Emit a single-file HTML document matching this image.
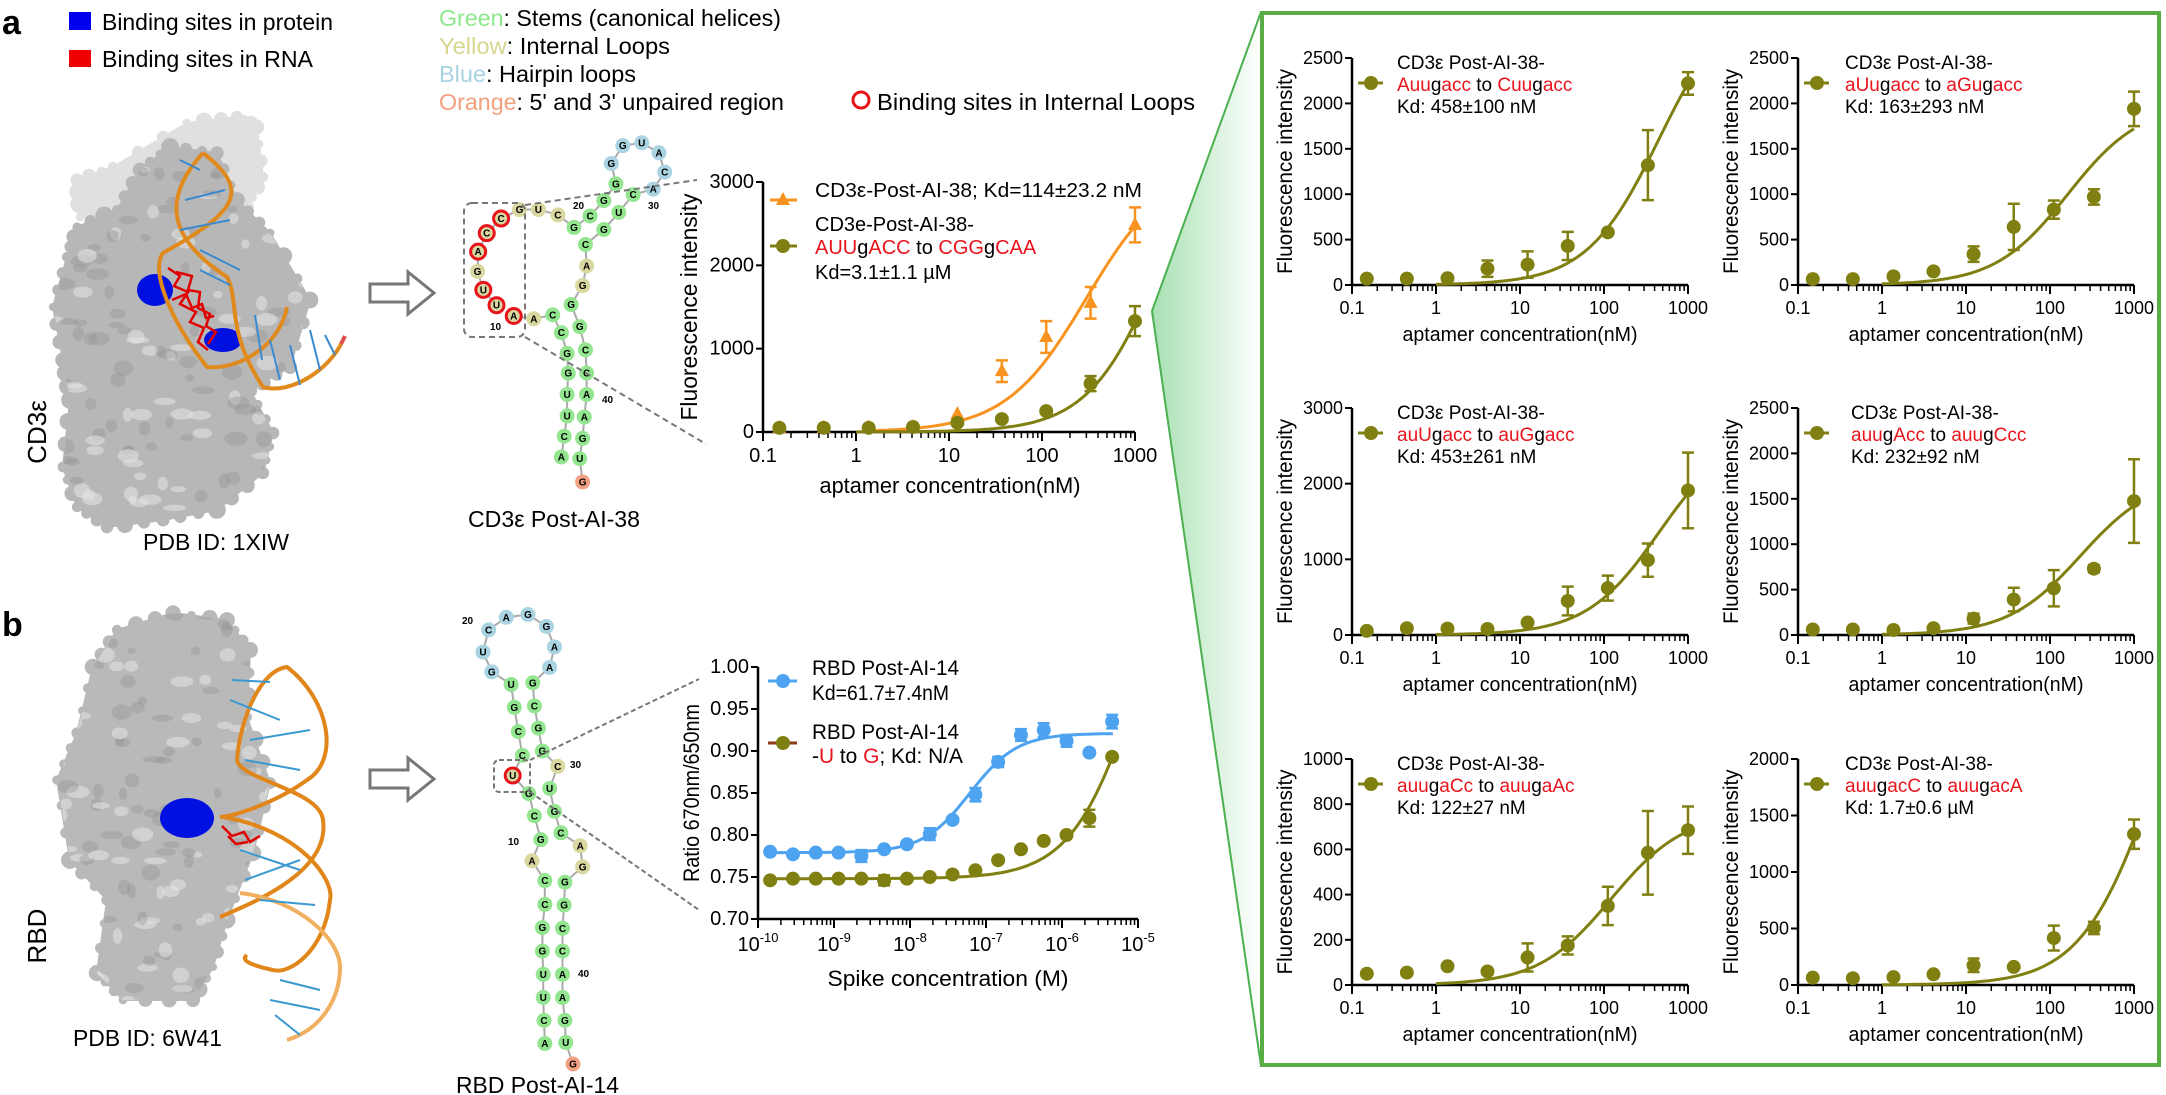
<!DOCTYPE html>
<html><head><meta charset="utf-8"><style>
html,body{margin:0;padding:0;background:#fff;}
svg{display:block;font-family:"Liberation Sans",Arial,sans-serif;}
</style></head><body>
<svg id="s" xmlns="http://www.w3.org/2000/svg" width="2166" height="1095" viewBox="0 0 2166 1095"></svg>
<script>
var S=[];
function T(x,y,s,o){o=o||{};var a='<text x="'+x+'" y="'+y+'" font-size="'+(o.fs||20)+'"'+(o.fill?' fill="'+o.fill+'"':'')+(o.anchor?' text-anchor="'+o.anchor+'"':'')+(o.bold?' font-weight="bold"':'')+(o.tl?' textLength="'+o.tl+'" lengthAdjust="spacingAndGlyphs"':'')+(o.rot?' transform="rotate(-90 '+x+' '+y+')"':'')+'>'+s+'</text>';S.push(a);}
function segs(arr){return arr.map(function(p){return '<tspan fill="'+(p[1]=='r'?'#e8141c':'#000')+'">'+p[0]+'</tspan>';}).join('');}
var OL='#808012',OR='#f7931e',BL='#4da3f0';
T(2,34,'a',{fs:34,bold:1});T(2,636,'b',{fs:34,bold:1});
S.push('<rect x="69" y="12" width="22" height="18" fill="#0000ee"/><rect x="69" y="50" width="22" height="17" fill="#ee0000"/>');
T(102,30,'Binding sites in protein',{fs:23,tl:231});T(102,67,'Binding sites in RNA',{fs:23,tl:211});
T(439,26,'<tspan fill="#8de88a">Green</tspan>: Stems (canonical helices)',{fs:23,tl:342});
T(439,54,'<tspan fill="#d6d68e">Yellow</tspan>: Internal Loops',{fs:23,tl:231});
T(439,82,'<tspan fill="#a8d4e2">Blue</tspan>: Hairpin loops',{fs:23,tl:197});
T(439,110,'<tspan fill="#f2a07e">Orange</tspan>: 5\' and 3\' unpaired region',{fs:23,tl:345});
S.push('<circle cx="861" cy="100" r="8" fill="none" stroke="#e8141c" stroke-width="3"/>');
T(877,110,'Binding sites in Internal Loops',{fs:23,tl:318});
var PA=[[77,227],[117,210],[140,170],[170,147],[217,153],[237,200],[270,233],[310,300],[290,367],[250,390],[273,433],[263,473],[217,510],[163,520],[107,527],[77,507],[63,467],[70,400],[63,360],[53,307],[67,257]];
var PB=[[117,630],[173,613],[227,620],[250,650],[247,717],[270,783],[253,853],[227,920],[213,967],[193,1000],[123,1000],[97,973],[107,900],[70,860],[57,780],[77,733],[93,667]];
function pd(p){return 'M'+p.map(function(q){return q.join(',');}).join(' L')+' Z';}
S.push('<defs><linearGradient id="g1" x1="0" x2="1" y1="0" y2="0"><stop offset="0" stop-color="#3dbb55" stop-opacity="0.45"/><stop offset="1" stop-color="#3dbb55" stop-opacity="0"/></linearGradient>'+
'<radialGradient id="pg" cx="0.45" cy="0.4" r="0.75"><stop offset="0" stop-color="#d4d4d4"/><stop offset="0.75" stop-color="#b8b8b8"/><stop offset="1" stop-color="#909090"/></radialGradient>'+
'<clipPath id="cA"><path d="'+pd(PA)+'"/></clipPath><clipPath id="cB"><path d="'+pd(PB)+'"/></clipPath></defs>');
S.push('<polygon points="1152,311 1261,12 1261,1066" fill="url(#g1)"/><polyline points="1261,12 1152,311 1261,1066" fill="none" stroke="#4cb050" stroke-width="2"/>');
S.push('<rect x="1262" y="13" width="897" height="1052" fill="none" stroke="#5aac44" stroke-width="4"/>');
var seed=7;function rnd(){seed=(seed*9301+49297)%233280;return seed/233280;}
function protein(pts,fill){
 var o='<path d="'+pd(pts)+'" fill="'+fill+'" stroke="'+fill+'" stroke-width="2"/>';
 for(var i=0;i<pts.length;i++){var a=pts[i],b=pts[(i+1)%pts.length];for(var t=0;t<1;t+=0.34){var x=a[0]+(b[0]-a[0])*t,y=a[1]+(b[1]-a[1])*t;o+='<circle cx="'+x.toFixed(1)+'" cy="'+y.toFixed(1)+'" r="'+(4+rnd()*5).toFixed(1)+'" fill="'+fill+'"/>';}}
 S.push(o);}
function texture(x0,y0,x1,y1,n,clip){var o='<g clip-path="url(#'+clip+')">';for(var i=0;i<n;i++){var x=x0+rnd()*(x1-x0),y=y0+rnd()*(y1-y0);var lt=rnd()>0.5;o+='<ellipse cx="'+x.toFixed(1)+'" cy="'+y.toFixed(1)+'" rx="'+(4+rnd()*8).toFixed(1)+'" ry="'+(3+rnd()*5).toFixed(1)+'" fill="'+(lt?'#e6e6e6':'#8e8e8e')+'" opacity="'+(lt?0.55:0.35)+'"/>';}S.push(o+'</g>');}
protein([[77,180],[113,167],[187,123],[237,117],[257,127],[263,177],[247,207],[80,217]],'#e0e0e0');
protein(PA,'#b7b7b7');
texture(50,140,315,530,170,'cA');
S.push('<ellipse cx="155" cy="290" rx="18" ry="16" fill="#0010e0"/><ellipse cx="223" cy="340" rx="19" ry="12" fill="#0010e0"/>');
S.push('<g stroke="#e00000" stroke-width="2.5" fill="none"><path d="M168,268 l12,8 l-6,10 l14,6 l-8,12 l16,8 l-6,10 l14,6 l-6,14 l10,8"/><path d="M176,272 l16,4 l-4,14 l12,2 l-2,16 l12,6 l-4,12 l10,6 l-8,12"/><path d="M172,300 l14,-6 l6,14 l10,-4 l4,14 l8,-2"/></g>');
S.push('<path d="M203,153 C160,200 170,240 227,277 C240,300 225,330 263,387 C290,395 330,370 343,340" fill="none" stroke="#e08a1e" stroke-width="4"/><path d="M203,153 C250,190 240,210 163,253 C150,270 170,320 207,367 C240,370 280,345 287,307" fill="none" stroke="#e08a1e" stroke-width="4"/><line x1="341" y1="344" x2="345" y2="336" stroke="#e05050" stroke-width="4"/>');
S.push('<g stroke="#3a8ad0" stroke-width="2"><line x1="180" y1="160" x2="200" y2="170"/><line x1="185" y1="200" x2="225" y2="190"/><line x1="180" y1="230" x2="230" y2="220"/><line x1="200" y1="250" x2="240" y2="270"/><line x1="200" y1="270" x2="230" y2="285"/><line x1="270" y1="340" x2="280" y2="380"/><line x1="290" y1="345" x2="300" y2="385"/><line x1="310" y1="330" x2="320" y2="370"/><line x1="325" y1="335" x2="335" y2="355"/><line x1="255" y1="315" x2="262" y2="360"/></g>');
protein(PB,'#b9b9b9');
texture(55,605,275,1005,150,'cB');
S.push('<ellipse cx="187" cy="818" rx="27" ry="20" fill="#0010e0"/><g stroke="#e00000" stroke-width="2.5" fill="none"><path d="M222,826 l10,10 l12,-4 l6,10 l10,-6"/><path d="M228,836 l8,8 l12,-2"/></g>');
S.push('<path d="M220,917 C260,900 330,870 323,820 C320,790 240,780 237,760 C240,720 260,670 287,667 C330,700 340,760 307,780 C280,800 240,815 220,817" fill="none" stroke="#e0861a" stroke-width="4"/><path d="M223,817 C300,830 335,880 330,900 C325,950 290,975 273,970 C250,965 240,960 247,955" fill="none" stroke="#e0861a" stroke-width="4"/><path d="M240,893 C300,900 340,940 340,967 C340,1000 320,1030 287,1040" fill="none" stroke="#f0b060" stroke-width="4"/>');
S.push('<g stroke="#3a9ad0" stroke-width="2"><line x1="232" y1="680" x2="270" y2="682"/><line x1="230" y1="700" x2="280" y2="720"/><line x1="250" y1="740" x2="310" y2="730"/><line x1="245" y1="760" x2="300" y2="770"/><line x1="240" y1="850" x2="300" y2="870"/><line x1="245" y1="880" x2="300" y2="860"/><line x1="260" y1="900" x2="315" y2="905"/><line x1="280" y1="980" x2="320" y2="990"/><line x1="270" y1="1000" x2="320" y2="1010"/><line x1="275" y1="1015" x2="300" y2="1035"/></g>');
T(46,432,'CD3ε',{fs:26,anchor:'middle',rot:1});T(46,936,'RBD',{fs:26,anchor:'middle',rot:1});
T(143,550,'PDB ID: 1XIW',{fs:23,tl:146});T(73,1046,'PDB ID: 6W41',{fs:23,tl:149});
T(468,527,'CD3ε Post-AI-38',{fs:23,tl:172});T(456,1093,'RBD Post-AI-14',{fs:23,tl:163});
function arrow(x,y){S.push('<path d="M'+x+','+(y-9)+' h38 v-12 l26,21 l-26,21 v-12 h-38 Z" fill="#fff" stroke="#777" stroke-width="3"/>');}
arrow(370,293);arrow(370,779);
var CF={g:'#93e68f',y:'#d9d8a0',b:'#aad4e2',o:'#f2a283'};
function nts(list,fx,fy){var out='';list.forEach(function(n){var x=n[0]*fx[0]+fx[1],y=n[1]*fy[0]+fy[1];n.X=x;n.Y=y;});
 for(var i=1;i<list.length;i++){out+='<line x1="'+list[i-1].X+'" y1="'+list[i-1].Y+'" x2="'+list[i].X+'" y2="'+list[i].Y+'" stroke="#aaa" stroke-width="2"/>';}
 list.forEach(function(n){out+='<circle cx="'+n.X+'" cy="'+n.Y+'" r="7.5" fill="'+CF[n[3]]+'"'+(n[4]?' stroke="#e8141c" stroke-width="3"':'')+'/><text x="'+n.X+'" y="'+(n.Y+3.5)+'" font-size="10" font-weight="bold" text-anchor="middle">'+n[2]+'</text>';});S.push(out);}
var A=[[865,855,'U','y',1],[842,812,'U','y',1],[832,760,'G','y'],[833,705,'A','y',1],[848,653,'C','y',1],[873,612,'C','y',1],[905,587,'G','y'],[938,587,'U','y'],[972,602,'C','y'],[1000,637,'G','g'],[1028,605,'C','g'],[1052,562,'G','g'],[1073,515,'G','g'],[1065,458,'G','b'],[1085,408,'G','b'],[1118,400,'U','b'],[1148,428,'A','b'],[1158,482,'C','b'],[1138,530,'A','b'],[1103,545,'C','g'],[1078,595,'U','g'],[1052,643,'G','g'],[1020,685,'C','g'],[1022,745,'A','y'],[1015,800,'G','y'],[995,853,'G','g'],[1010,915,'G','g'],[1020,980,'C','g'],[1022,1045,'C','g'],[1022,1105,'A','g'],[1018,1168,'A','g'],[1015,1228,'G','g'],[1010,1285,'U','g'],[1015,1350,'G','o']];
var A2=[[895,885,'A','y',1],[930,893,'A','y'],[963,882,'C','g'],[978,932,'C','g'],[988,990,'G','g'],[990,1045,'G','g'],[988,1105,'U','g'],[988,1165,'U','g'],[983,1222,'C','g'],[978,1280,'A','g']];
nts(A,[0.574,0],[0.357,0]);nts(A2,[0.574,0],[0.357,0]);
T(573,209,'20',{fs:10,bold:1});T(648,209,'30',{fs:10,bold:1});T(490,330,'10',{fs:10,bold:1});T(602,403,'40',{fs:10,bold:1});
S.push('<rect x="464" y="203" width="61" height="134" rx="8" fill="none" stroke="#777" stroke-width="2" stroke-dasharray="6 4"/><line x1="525" y1="205" x2="697" y2="180" stroke="#777" stroke-width="2" stroke-dasharray="6 4"/><line x1="525" y1="337" x2="706" y2="444" stroke="#777" stroke-width="2" stroke-dasharray="6 4"/>');
var B=[[662,882,'A','y'],[673,820,'G','g'],[665,750,'C','g'],[658,685,'G','g'],[638,632,'U','y',1],[650,573,'C','g'],[645,503,'C','g'],[640,432,'G','g'],[636,365,'U','g'],[612,328,'G','b'],[601,270,'U','b'],[608,205,'C','b'],[630,168,'A','b'],[657,160,'G','b'],[680,195,'G','b'],[690,255,'A','b'],[684,315,'A','b'],[663,360,'G','g'],[665,428,'C','g'],[670,493,'G','g'],[675,560,'G','g'],[694,605,'C','y'],[684,670,'U','g'],[690,737,'G','g'],[698,800,'C','g'],[722,838,'A','y'],[725,900,'G','y'],[703,945,'G','g'],[702,1012,'G','g'],[700,1080,'C','g'],[700,1147,'C','g'],[700,1215,'A','g'],[700,1283,'A','g'],[703,1350,'G','g'],[704,1415,'U','g'],[713,1478,'G','o']];
var B2=[[662,882,'A','y'],[678,940,'C','g'],[678,1010,'C','g'],[675,1078,'G','g'],[675,1147,'G','g'],[676,1215,'U','g'],[676,1283,'U','g'],[677,1350,'C','g'],[678,1418,'A','g']];
nts(B,[0.8036,0],[0.341,560]);nts(B2,[0.8036,0],[0.341,560]);
T(462,624,'20',{fs:10,bold:1});T(570,768,'30',{fs:10,bold:1});T(508,845,'10',{fs:10,bold:1});T(578,977,'40',{fs:10,bold:1});
S.push('<rect x="494" y="760" width="36" height="32" rx="5" fill="none" stroke="#777" stroke-width="2" stroke-dasharray="5 3"/><line x1="530" y1="760" x2="699" y2="679" stroke="#777" stroke-width="2" stroke-dasharray="5 3"/><line x1="530" y1="792" x2="699" y2="910" stroke="#777" stroke-width="2" stroke-dasharray="5 3"/>');
function chart(c){
 var o='';var X=function(v){return c.ax+(Math.log10(v)-c.lmin)*c.dec;};var Y=function(v){return c.ay-(v-c.ymin)/(c.ymax-c.ymin)*(c.ay-c.top);};
 var xr=c.ax+(c.lmax-c.lmin)*c.dec;
 o+='<line x1="'+c.ax+'" y1="'+c.ay+'" x2="'+xr+'" y2="'+c.ay+'" stroke="#000" stroke-width="2.5"/><line x1="'+c.ax+'" y1="'+(c.ay+1)+'" x2="'+c.ax+'" y2="'+c.top+'" stroke="#000" stroke-width="2.5"/>';
 for(var d=c.lmin;d<=c.lmax;d++){var x=c.ax+(d-c.lmin)*c.dec;o+='<line x1="'+x+'" y1="'+c.ay+'" x2="'+x+'" y2="'+(c.ay+9)+'" stroke="#000" stroke-width="2"/>';
  if(d<c.lmax)for(var k=2;k<10;k++){var xm=x+Math.log10(k)*c.dec;o+='<line x1="'+xm+'" y1="'+c.ay+'" x2="'+xm+'" y2="'+(c.ay+6)+'" stroke="#000" stroke-width="1.5"/>';}
  o+='<text x="'+x+'" y="'+(c.ay+c.xtd)+'" font-size="'+c.fs+'" text-anchor="middle">'+c.xl(d)+'</text>';}
 for(var v=c.ymin;v<=c.ymax+1e-9;v+=c.ys){var y=Y(v);o+='<line x1="'+(c.ax-7)+'" y1="'+y+'" x2="'+c.ax+'" y2="'+y+'" stroke="#000" stroke-width="2"/><text x="'+(c.ax-9)+'" y="'+(y+6)+'" font-size="'+c.fs+'" text-anchor="end">'+c.yl(v)+'</text>';}
 o+='<text x="'+c.ylx+'" y="'+((c.ay+c.top)/2)+'" font-size="'+c.yfs+'" text-anchor="middle" textLength="'+c.ytl+'" lengthAdjust="spacingAndGlyphs" transform="rotate(-90 '+c.ylx+' '+((c.ay+c.top)/2)+')">'+c.ylab+'</text>';
 o+='<text x="'+c.xlx+'" y="'+(c.ay+c.xld)+'" font-size="'+c.xfs+'" text-anchor="middle" textLength="'+c.xtl+'" lengthAdjust="spacingAndGlyphs">'+c.xlab+'</text>';
 c.series.forEach(function(s){
  var p='';for(var i=0;i<=120;i++){var lv=s.c0+(s.c1-s.c0)*i/120;var v=Math.pow(10,lv);p+=(i?'L':'M')+X(v).toFixed(1)+','+Y(s.f(v)).toFixed(1);}
  o+='<path d="'+p+'" fill="none" stroke="'+s.col+'" stroke-width="3"/>';
  s.pts.forEach(function(q){var x=X(q[0]),y=Y(q[1]);if(q[2]){var y1=Y(q[1]+q[2]),y2=Y(q[1]-q[2]);o+='<path d="M'+x+','+y1+'V'+y2+'M'+(x-6)+','+y1+'h12M'+(x-6)+','+y2+'h12" stroke="'+s.col+'" stroke-width="2.5" fill="none"/>';}
   if(s.tri)o+='<path d="M'+x+','+(y-8)+'L'+(x+7)+','+(y+5)+'L'+(x-7)+','+(y+5)+'Z" fill="'+s.col+'"/>';else o+='<circle cx="'+x+'" cy="'+y+'" r="'+(s.r||7)+'" fill="'+s.col+'"/>';});
 });
 S.push(o);}
var XS=[0.15,0.45,1.37,4.1,12.3,37,111,333,1000];
function mk(vals){return vals.map(function(v,i){return Array.isArray(v)?[XS[i],v[0],v[1]]:[XS[i],v];});}
function nl(d){return ['0.1','1','10','100','1000'][d+1];}
function right(ax,ay,top,ymax,ys,vals,B,K,leg,lx){
 chart({ax:ax,ay:ay,top:top,lmin:-1,lmax:3,dec:84,ymin:0,ymax:ymax,ys:ys,fs:18,xtd:29,xl:nl,yl:function(v){return Math.round(v);},
  ylab:'Fluorescence intensity',ylx:ax-60,yfs:21,ytl:205,xlab:'aptamer concentration(nM)',xlx:ax+168,xld:56,xfs:20,xtl:235,
  series:[{col:OL,pts:mk(vals),c0:0,c1:3,f:function(x){return B*x/(K+x);}}]});
 var ty=top+4;
 S.push('<line x1="'+(ax+6)+'" y1="'+(ty+21)+'" x2="'+(ax+31)+'" y2="'+(ty+21)+'" stroke="'+OL+'" stroke-width="3"/><circle cx="'+(ax+19)+'" cy="'+(ty+21)+'" r="7" fill="'+OL+'"/>');
 T(lx,ty+7,'CD3ε Post-AI-38-',{fs:19});T(lx,ty+29,segs(leg[0]),{fs:19});T(lx,ty+51,leg[1],{fs:19});
}
right(1352,285,58,2500,500,[70,70,75,[180,90],[225,145],[430,155],580,[1320,385],[2220,125]],3237,458,[[['Auu','r'],['g','k'],['acc','r'],[' to ','k'],['Cuu','r'],['g','k'],['acc','r']],'Kd: 458±100 nM'],1397);
right(1798,285,58,2500,500,[65,65,95,150,[340,85],[640,255],[830,100],[970,85],[1940,190]],2000,163,[[['aUu','r'],['g','k'],['acc','r'],[' to ','k'],['aGu','r'],['g','k'],['acc','r']],'Kd: 163±293 nM'],1845);
right(1352,635,408,3000,1000,[55,90,85,80,165,[450,190],[620,165],[990,220],[1910,500]],2717,453,[[['auU','r'],['g','k'],['acc','r'],[' to ','k'],['auG','r'],['g','k'],['acc','r']],'Kd: 453±261 nM'],1397);
right(1798,635,408,2500,500,[60,60,55,75,[180,55],[390,130],[515,200],[730,40],[1475,460]],1750,232,[[['auu','r'],['g','k'],['Acc','r'],[' to ','k'],['auu','r'],['g','k'],['Ccc','r']],'Kd: 232±92 nM'],1851);
right(1352,985,759,1000,200,[50,55,83,60,[122,62],[175,40],[350,85],[585,185],[685,105]],763,122,[[['auu','r'],['g','k'],['aCc','r'],[' to ','k'],['auu','r'],['g','k'],['aAc','r']],'Kd: 122±27 nM'],1397);
right(1798,985,759,2000,500,[65,60,70,95,[175,60],160,[415,110],[505,55],[1335,130]],3510,1700,[[['auu','r'],['g','k'],['acC','r'],[' to ','k'],['auu','r'],['g','k'],['acA','r']],'Kd: 1.7±0.6 µM'],1845);
chart({ax:763,ay:432,top:182,lmin:-1,lmax:3,dec:93,ymin:0,ymax:3000,ys:1000,fs:20,xtd:30,xl:nl,yl:function(v){return Math.round(v);},
 ylab:'Fluorescence intensity',ylx:697,yfs:23,ytl:227,xlab:'aptamer concentration(nM)',xlx:950,xld:61,xfs:22,xtl:261,
 series:[{col:OR,tri:1,pts:mk([50,50,55,60,215,[730,130],[1140,190],[1550,190],[2485,210]]),c0:0.1,c1:3,f:function(x){return 3210*x/(300+x);}},
  {col:OL,pts:mk([50,50,50,60,110,155,250,[580,90],[1330,180]]),c0:0,c1:3,f:function(x){var a=Math.pow(x/2000,1.1);return 4120*a/(1+a);}}]});
S.push('<line x1="770" y1="200" x2="797" y2="200" stroke="'+OR+'" stroke-width="3"/><path d="M783,192L790,205L776,205Z" fill="'+OR+'"/>');
S.push('<line x1="770" y1="246" x2="797" y2="246" stroke="'+OL+'" stroke-width="3"/><circle cx="783" cy="246" r="7" fill="'+OL+'"/>');
T(815,197,'CD3ε-Post-AI-38; Kd=114±23.2 nM',{fs:20,tl:327});T(815,231,'CD3e-Post-AI-38-',{fs:20});
T(815,254,segs([['AUU','r'],['g','k'],['ACC','r'],[' to ','k'],['CGG','r'],['g','k'],['CAA','r']]),{fs:20});T(815,279,'Kd=3.1±1.1 µM',{fs:20});
var LX=[];for(var i=0;i<16;i++)LX.push(Math.pow(10,-9.84+0.3*i));
var bv=[0.78,0.777,0.779,0.779,[0.775,0.007],0.783,0.789,[0.801,0.007],0.818,[0.848,0.008],[0.887,0.006],[0.919,0.007],[0.925,0.008],[0.912,0.007],0.898,[0.935,0.008]];
var ov=[0.746,0.748,0.748,0.748,0.748,[0.746,0.006],0.748,0.75,0.753,0.758,0.77,0.783,0.793,0.8,[0.82,0.01],0.893];
function mb(v){return v.map(function(q,i){return Array.isArray(q)?[LX[i],q[0],q[1]]:[LX[i],q];});}
chart({ax:758,ay:919,top:667,lmin:-10,lmax:-5,dec:76,ymin:0.7,ymax:1.0,ys:0.05,fs:20,xtd:32,
 xl:function(d){return '10<tspan font-size="13" dy="-9">'+d+'</tspan>';},yl:function(v){return v.toFixed(2);},
 ylab:'Ratio 670nm/650nm',ylx:699,yfs:22,ytl:178,xlab:'Spike concentration (M)',xlx:948,xld:67,xfs:22,xtl:241,
 series:[{col:BL,pts:mb(bv),c0:-9.84,c1:-5.33,f:function(x){return 0.779+0.142/(1+Math.pow(10,(-7.21-Math.log10(x))*1.4));}},
  {col:OL,pts:mb(ov),c0:-9.84,c1:-5.33,f:function(x){return 0.748+0.46*x/(1e-5+x);}}]});
S.push('<line x1="768" y1="681" x2="797" y2="681" stroke="'+BL+'" stroke-width="3"/><circle cx="783" cy="681" r="7" fill="'+BL+'"/>');
S.push('<line x1="768" y1="743" x2="797" y2="743" stroke="#8b3a1a" stroke-width="3"/><circle cx="783" cy="743" r="7" fill="'+OL+'"/>');
T(812,675,'RBD Post-AI-14',{fs:21,tl:147});T(812,700,'Kd=61.7±7.4nM',{fs:21,tl:137});
T(812,739,'RBD Post-AI-14',{fs:21,tl:147});T(812,763,segs([['-','k'],['U','r'],[' to ','k'],['G','r'],['; Kd: N/A','k']]),{fs:21,tl:151});
document.getElementById('s').innerHTML=S.join('');
</script>
</body></html>
